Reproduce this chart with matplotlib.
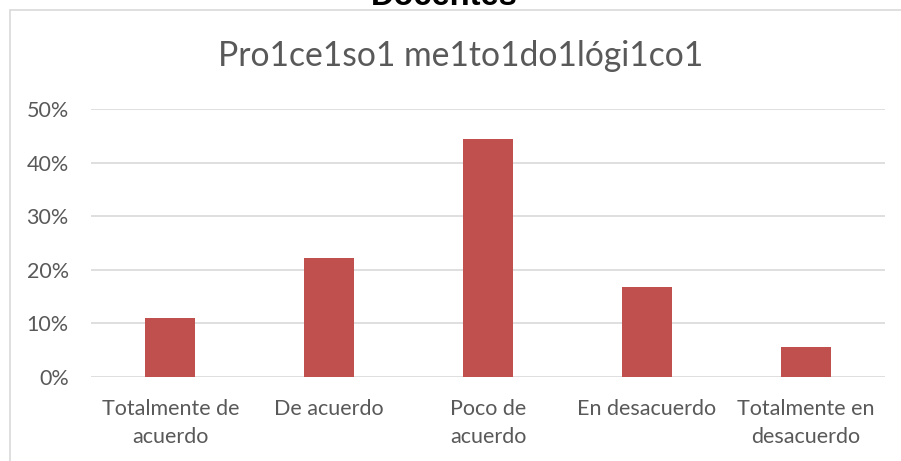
import matplotlib.pyplot as plt
from matplotlib.patches import Rectangle
from matplotlib.ticker import PercentFormatter

categorias = ["Totalmente de\nacuerdo", "De acuerdo", "Poco de\nacuerdo",
              "En desacuerdo", "Totalmente en\ndesacuerdo"]
porcentajes = [0.111, 0.222, 0.444, 0.167, 0.056]
yticks = [0, 0.1, 0.2, 0.3, 0.4, 0.5]

plt.rcParams['font.family'] = ['Lato', 'DejaVu Sans']
gris = '#595959'

fig = plt.figure(figsize=(9.01, 4.61), dpi=100)
ax = fig.add_axes([91/901, 1 - 377/461, (885 - 91)/901, (377 - 109)/461])

# marco del grafico
fig.patches.append(Rectangle((10/901, -0.1), 1.2, 1 - 10/461 + 0.1,
                             transform=fig.transFigure, fill=False,
                             edgecolor='#D9D9D9', linewidth=1.2))

x = range(len(categorias))
ax.bar(x, porcentajes, width=0.315, color='#C0504D', zorder=3)
ax.set_xlim(-0.5, len(categorias) - 0.5)
ax.set_ylim(0, 0.5)
ax.set_yticks(yticks)
ax.yaxis.set_major_formatter(PercentFormatter(1.0, decimals=0))
ax.set_xticks(list(x))
ax.set_xticklabels(categorias, linespacing=1.47)
ax.grid(axis='y', color='#D9D9D9', linewidth=1.2, zorder=0)
for s in ax.spines.values():
    s.set_visible(False)
ax.tick_params(length=0, labelcolor=gris, labelsize=15.5)
ax.tick_params(axis='y', pad=16)
ax.tick_params(axis='x', pad=16)

fig.text(461/901, 1 - 66/461, "Pro1ce1so1 me1to1do1lógi1co1", ha='center',
         va='baseline', fontsize=24.2, color=gris)
# titulo superior, cortado por el borde de la imagen
fig.text(444/901, 1 - 5/461, "Docentes", ha='center', va='baseline',
         fontsize=23.5, fontweight='bold', family='Liberation Sans', color='black')

fig.savefig("out.png", dpi=100)
